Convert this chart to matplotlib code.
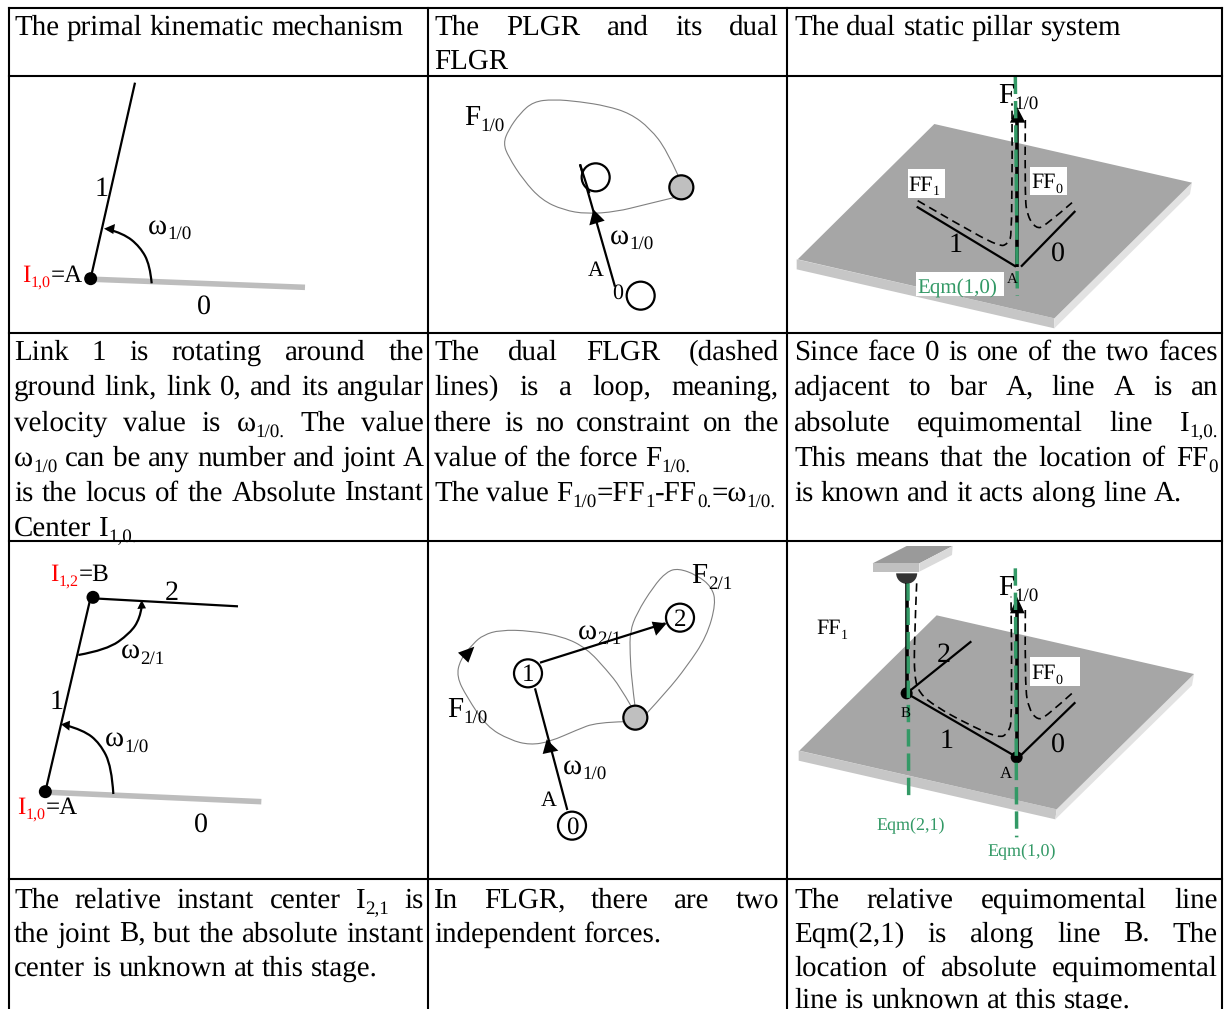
"""Three-column table of linkage diagrams with justified captions."""
import re
import numpy as np
import matplotlib
matplotlib.use("Agg")
import matplotlib.pyplot as plt
from matplotlib.path import Path
from matplotlib.patches import PathPatch, Circle, Polygon, Rectangle, Wedge

plt.rcParams["text.hinting"] = "no_hinting"
plt.rcParams["text.hinting_factor"] = 1

W, H = 1226, 1009
FONT = "Liberation Serif"
BODY = 21.2
OMEGA = 21
GREEN = "#339966"
RED = "#ff0000"
LOOP = "#808080"

COL_X = [9, 428, 787, 1222]
ROW_Y = [8, 76, 333, 541, 879]

# caption text: (left, right, baselines, lines); a line ending in ">" is justified
CAP_COL1 = (14, 424)
CAP_COL2 = (434, 779)
CAP_COL3 = (794, 1218)

HEADER_1 = ["The primal kinematic mechanism"]
HEADER_2 = ["The PLGR and its dual>", "FLGR"]
HEADER_3 = ["The dual static pillar system"]
HEADER_BASE = [35, 69]

ROW2_1 = ["Link 1 is rotating around the>", "ground link, link 0, and its angular>",
          "velocity value is ω_{1/0.} The value>", "ω_{1/0} can be any number and joint A>",
          "is the locus of the Absolute Instant>", "Center I_{1,0.}"]
ROW2_2 = ["The dual FLGR (dashed>", "lines) is a loop, meaning,>",
          "there is no constraint on the>", "value of the force F_{1/0.}",
          "The value F_{1/0}=FF_{1}-FF_{0.}=ω_{1/0.}"]
ROW2_3 = ["Since face 0 is one of the two faces>", "adjacent to bar A, line A is an>",
          "absolute equimomental line I_{1,0.}>", "This means that the location of FF_{0}>",
          "is known and it acts along line A."]
ROW2_BASE = [360, 395, 431, 466, 501, 536]

ROW4_1 = ["The relative instant center I_{2,1} is>", "the joint B, but the absolute instant>",
          "center is unknown at this stage."]
ROW4_2 = ["In FLGR, there are two>", "independent forces."]
ROW4_3 = ["The relative equimomental line>", "Eqm(2,1) is along line B. The>",
          "location of absolute equimomental>", "line is unknown at this stage."]
ROW4_BASE = [908, 942, 976, 1008]

# diagram geometry, in crop units (3 per pixel) from each crop's origin
ORG_A, ORG_B, ORG_C = (0, 70), (430, 70), (786, 70)
ORG_D, ORG_E, ORG_F = (0, 540), (430, 540), (786, 540)

A_LINK = [(272, 625), (405, 38)]
A_GROUND = [(285, 628), (915, 652)]
A_ARC = [(455, 640), (450, 585), (420, 530), (370, 490), (322, 477)]
A_ARROW = [(312, 476), (345, 462), (340, 492)]
A_DOT = (272, 626)

B_LOOP = [(745, 318), (710, 240), (660, 175), (600, 130), (530, 108), (450, 95), (370, 88),
          (310, 95), (270, 130), (235, 180), (220, 220), (235, 260), (280, 330), (335, 390),
          (400, 420), (470, 432), (560, 425), (640, 405), (735, 382)]
B_LINK = [(555, 650), (450, 283)]
B_ARROW = [(490, 418), (478, 466), (524, 452)]
B_OPEN = [(497, 322), (632, 677)]
B_GRAY = (754, 352)

C_TOP = [(445, 162), (1218, 338), (805, 745), (35, 568)]
C_FRONT = [(32, 568), (805, 745), (805, 775), (32, 598)]
C_SIDE = [(805, 745), (1218, 338), (1212, 372), (805, 775)]
C_LINK1 = [(392, 410), (690, 590)]
C_LINK0 = [(868, 423), (705, 590)]
C_BAR = [(692, 590), (692, 150)]
C_HEAD = [(693, 110), (672, 158), (718, 158)]
C_EQM = [(688, 20), (694, 678)]
C_DASH1 = [(395, 392), (520, 465), (640, 530), (665, 522), (680, 490), (678, 100)]
C_DASH2 = [(718, 150), (716, 380), (725, 440), (750, 475), (775, 470), (858, 398)]
C_BOXES = [(366, 297, 476, 383), (732, 290, 842, 374), (390, 607, 653, 677)]

D_LINK1 = [(136, 755), (272, 172)]
D_LINK2 = [(279, 175), (714, 199)]
D_GROUND = [(150, 757), (784, 785)]
D_ARC2 = [(235, 345), (320, 330), (390, 280), (420, 235), (425, 200)]
D_HEAD2 = [(425, 180), (412, 207), (438, 205)]
D_ARC1 = [(340, 762), (335, 680), (300, 610), (250, 570), (195, 555)]
D_HEAD1 = [(183, 553), (210, 542), (208, 572)]
D_DOTS = [(279, 172), (136, 755)]

E_LOOP1 = [(585, 545), (500, 547), (440, 570), (360, 605), (300, 615), (240, 600), (170, 560),
           (110, 470), (80, 410), (90, 360), (130, 310), (160, 285), (210, 270), (300, 272),
           (400, 290), (470, 325), (530, 390), (570, 440), (603, 498)]
E_LOOP2 = [(650, 520), (710, 455), (770, 380), (830, 290), (858, 190), (845, 140), (800, 105),
           (745, 85), (710, 95), (670, 140), (620, 220), (600, 275), (600, 340), (605, 420),
           (615, 498)]
E_LINK1 = [(412, 810), (315, 445)]
E_LINK2 = [(330, 368), (705, 250)]
E_HEAD1 = [(350, 598), (338, 642), (385, 632)]
E_HEAD2 = [(710, 250), (665, 245), (678, 287)]
E_HEAD3 = [(133, 320), (84, 338), (115, 368)]
E_OPEN = [(294, 400), (750, 233), (426, 857)]
E_GRAY = (616, 533)

F_TOP = [(452, 226), (1224, 402), (812, 808), (40, 632)]
F_FRONT = [(38, 632), (812, 808), (808, 838), (38, 662)]
F_SIDE = [(812, 808), (1224, 402), (1218, 436), (808, 838)]
F_SHELF_TOP = [(260, 70), (362, 18), (500, 18), (400, 70)]
F_SHELF_FRONT = [(260, 70), (400, 70), (400, 95), (260, 95)]
F_SHELF_SIDE = [(400, 70), (500, 18), (498, 45), (400, 95)]
F_BAR1 = [(362, 130), (362, 460)]
F_BAR2 = [(692, 650), (692, 215)]
F_HEAD = [(693, 170), (672, 220), (716, 220)]
F_LINK1 = [(362, 460), (690, 650)]
F_LINK0 = [(868, 487), (700, 650)]
F_LINK2 = [(556, 304), (362, 460)]
F_EQM1 = [(366, 130), (368, 775)]
F_EQM2 = [(688, 85), (692, 892)]
F_DASH1 = [(392, 130), (385, 300), (385, 410), (400, 460), (450, 500), (540, 550), (640, 595),
           (665, 580), (680, 540), (675, 170)]
F_DASH2 = [(718, 210), (716, 440), (730, 510), (755, 540), (780, 530), (858, 460)]
F_DOTS = [(362, 460), (692, 652)]
F_BOX = (732, 352, 882, 437)
F_PIVOT = (362, 100)

fig = plt.figure(figsize=(W / 100, H / 100), dpi=100)
ax = fig.add_axes([0, 0, 1, 1])
ax.set_xlim(0, W)
ax.set_ylim(H, 0)
ax.axis("off")
renderer = fig.canvas.get_renderer()


def crop(org, pts):
    return np.array(pts, dtype=float) / 3 + np.array(org)


def width(s, size):
    t = ax.text(0, 0, s, fontsize=size, family=FONT)
    w = t.get_window_extent(renderer).width
    adv, _, _ = renderer.get_text_width_height_descent(s, t.get_fontproperties(), False)
    t.remove()
    return max(w, adv)


def split_runs(s):
    # "F_{1/0}=x" -> [("F", False), ("1/0", True), ("=x", False)]
    runs = []
    for part in re.split(r"(_\{[^}]*\})", s):
        if part.startswith("_{"):
            runs.append((part[2:-1], True))
        elif part:
            runs.append((part, False))
    return runs


def word_width(s, size):
    return sum(width(r, size * 0.65 if sub else size) for r, sub in split_runs(s))


def put(x, y, s, size, color="black", zorder=8):
    for r, sub in split_runs(s):
        sz = size * 0.65 if sub else size
        dy = size * 0.28 if sub else 0
        ax.text(x, y + dy, r, fontsize=sz, family=FONT, color=color, va="baseline",
                ha="left", zorder=zorder)
        x += width(r, sz)
    return x


def caption(col, lines, bases, size=BODY):
    left, right = col
    for s, y in zip(lines, bases):
        justify = s.endswith(">")
        words = s.rstrip(">").split(" ")
        ws = [word_width(w, size) for w in words]
        gap = width("n n", size) - width("nn", size)
        if justify and len(words) > 1:
            gap = (right - left - sum(ws)) / (len(words) - 1)
        x = left
        for w, wd in zip(words, ws):
            put(x, y, w, size)
            x += wd + gap


def line(org, pts, lw=1.5, color="black", dash=None, z=3):
    p = crop(org, pts)
    l, = ax.plot(p[:, 0], p[:, 1], color=color, lw=lw, zorder=z, solid_capstyle="butt",
                 dash_capstyle="butt")
    if dash:
        l.set_dashes(dash)


def curve(org, pts, lw=1.5, color="black", dash=None, z=3):
    p = crop(org, pts)
    verts = [p[0]]
    codes = [Path.MOVETO]
    for i in range(1, len(p) - 1):
        end = p[i + 1] if i == len(p) - 2 else (p[i] + p[i + 1]) / 2
        verts += [p[i], end]
        codes += [Path.CURVE3, Path.CURVE3]
    patch = PathPatch(Path(verts, codes), fill=False, ec=color, lw=lw, zorder=z)
    if dash:
        patch.set_linestyle((0, dash))
    ax.add_patch(patch)


def poly(org, pts, color, z=3):
    ax.add_patch(Polygon(crop(org, pts), closed=True, fc=color, ec="none", zorder=z))


def circle(org, c, r, fc="white", ec="black", lw=1.6, z=5):
    ax.add_patch(Circle(crop(org, [c])[0], r, fc=fc, ec=ec, lw=lw, zorder=z))


def label(org, zx, zy, s, size, color="black", z=8):
    p = crop(org, [(zx, zy)])[0]
    put(p[0], p[1], s, size, color, z)


def white_box(org, box, z=6):
    x0, y0, x1, y1 = box
    p = crop(org, [(x0, y0), (x1, y1)])
    ax.add_patch(Rectangle(p[0], *(p[1] - p[0]), fc="white", ec="none", zorder=z))


# table rules
for x in COL_X:
    ax.plot([x, x], [ROW_Y[0], H], color="black", lw=1.5, zorder=10, clip_on=True)
for y in ROW_Y:
    ax.plot([COL_X[0], COL_X[-1]], [y, y], color="black", lw=1.5, zorder=10)

caption(CAP_COL1, HEADER_1, HEADER_BASE)
caption(CAP_COL2, HEADER_2, HEADER_BASE)
caption(CAP_COL3, HEADER_3, HEADER_BASE)
caption(CAP_COL1, ROW2_1, ROW2_BASE)
caption(CAP_COL2, ROW2_2, ROW2_BASE)
caption(CAP_COL3, ROW2_3, ROW2_BASE)
caption(CAP_COL1, ROW4_1, ROW4_BASE)
caption(CAP_COL2, ROW4_2, ROW4_BASE)
caption(CAP_COL3, ROW4_3, ROW4_BASE)

# top left mechanism
line(ORG_A, A_GROUND, lw=4, color="#bdbdbd")
line(ORG_A, A_LINK, lw=1.6)
curve(ORG_A, A_ARC, lw=1.6)
poly(ORG_A, A_ARROW, "black")
circle(ORG_A, A_DOT, 6.5, fc="black", lw=0)
label(ORG_A, 445, 490, "ω_{1/0}", OMEGA)
label(ORG_A, 283, 378, "1", 20)
label(ORG_A, 592, 730, "0", 20)
x_end = put(22, 282, "I_{1,0}", 18, RED)
put(x_end, 282, "=A", 18)

# top middle graph
curve(ORG_B, B_LOOP, lw=0.8, color=LOOP)
line(ORG_B, B_LINK, lw=1.6)
poly(ORG_B, B_ARROW, "black")
for c in B_OPEN:
    circle(ORG_B, c, 14)
line(ORG_B, [(478, 370), (450, 283)], lw=1.6, z=6)
circle(ORG_B, B_GRAY, 12, fc="#bfbfbf")
label(ORG_B, 103, 165, "F_{1/0}", 21)
label(ORG_B, 540, 520, "ω_{1/0}", OMEGA)
label(ORG_B, 472, 618, "A", 16)
label(ORG_B, 547, 685, "0", 16)

# top right plate
poly(ORG_C, C_FRONT, "#c6c6c6", z=1)
poly(ORG_C, C_SIDE, "#e2e2e2", z=1)
poly(ORG_C, C_TOP, "#a6a6a6", z=2)
for b in C_BOXES:
    white_box(ORG_C, b, z=2.5)
line(ORG_C, C_LINK1, lw=1.6)
line(ORG_C, C_LINK0, lw=1.6)
line(ORG_C, C_BAR, lw=2.6, z=4)
poly(ORG_C, C_HEAD, "black", z=4)
curve(ORG_C, C_DASH1, lw=1.2, dash=(5, 3))
curve(ORG_C, C_DASH2, lw=1.2, dash=(5, 3))
line(ORG_C, C_EQM, lw=2.5, color=GREEN, dash=(5, 2), z=5)
label(ORG_C, 368, 362, "FF_{1}", 16)
label(ORG_C, 735, 355, "FF_{0}", 16)
label(ORG_C, 395, 672, "Eqm(1,0)", 15, GREEN)
label(ORG_C, 663, 640, "A", 11)
label(ORG_C, 638, 100, "F_{1/0}", 21)
label(ORG_C, 487, 545, "1", 20)
label(ORG_C, 795, 573, "0", 20)

# lower left mechanism
line(ORG_D, D_GROUND, lw=4, color="#bdbdbd")
line(ORG_D, D_LINK1, lw=1.6)
line(ORG_D, D_LINK2, lw=1.6)
curve(ORG_D, D_ARC2, lw=1.6)
curve(ORG_D, D_ARC1, lw=1.6)
poly(ORG_D, D_HEAD2, "black")
poly(ORG_D, D_HEAD1, "black")
for c in D_DOTS:
    circle(ORG_D, c, 6.5, fc="black", lw=0)
x_end = put(50, 581, "I_{1,2}", 18, RED)
put(x_end, 581, "=B", 18)
x_end = put(17, 814, "I_{1,0}", 18, RED)
put(x_end, 814, "=A", 18)
label(ORG_D, 495, 180, "2", 20)
label(ORG_D, 362, 353, "ω_{2/1}", OMEGA)
label(ORG_D, 150, 507, "1", 20)
label(ORG_D, 315, 618, "ω_{1/0}", OMEGA)
label(ORG_D, 583, 875, "0", 20)

# lower middle graph
curve(ORG_E, E_LOOP1, lw=0.8, color=LOOP)
curve(ORG_E, E_LOOP2, lw=0.8, color=LOOP)
line(ORG_E, E_LINK1, lw=1.6)
line(ORG_E, E_LINK2, lw=1.6)
poly(ORG_E, E_HEAD1, "black")
poly(ORG_E, E_HEAD2, "black")
poly(ORG_E, E_HEAD3, "black")
for c, s in zip(E_OPEN, ["1", "2", "0"]):
    circle(ORG_E, c, 14)
    p = crop(ORG_E, [c])[0]
    ax.text(p[0], p[1] + 8, s, fontsize=18, family=FONT, ha="center", va="baseline", zorder=8)
circle(ORG_E, E_GRAY, 12, fc="#bfbfbf")
label(ORG_E, 785, 128, "F_{2/1}", 21)
label(ORG_E, 443, 295, "ω_{2/1}", OMEGA)
label(ORG_E, 52, 530, "F_{1/0}", 21)
label(ORG_E, 400, 700, "ω_{1/0}", OMEGA)
label(ORG_E, 333, 797, "A", 16)

# lower right plate
poly(ORG_F, F_FRONT, "#c6c6c6", z=1)
poly(ORG_F, F_SIDE, "#e2e2e2", z=1)
poly(ORG_F, F_TOP, "#a6a6a6", z=2)
white_box(ORG_F, F_BOX, z=2.5)
poly(ORG_F, F_SHELF_TOP, "#9a9a9a", z=3)
poly(ORG_F, F_SHELF_FRONT, "#c0c0c0", z=3)
poly(ORG_F, F_SHELF_SIDE, "#dadada", z=3)
p0 = crop(ORG_F, [F_PIVOT])[0]
ax.add_patch(Wedge(p0, 10.5, 0, 180, fc="#333333", ec="none", zorder=2.8))
line(ORG_F, F_BAR1, lw=2.6, z=4)
line(ORG_F, F_BAR2, lw=2.6, z=4)
poly(ORG_F, F_HEAD, "black", z=4)
line(ORG_F, F_LINK1, lw=1.6)
line(ORG_F, F_LINK0, lw=1.6)
line(ORG_F, F_LINK2, lw=1.6)
curve(ORG_F, F_DASH1, lw=1.2, dash=(5, 3))
curve(ORG_F, F_DASH2, lw=1.2, dash=(5, 3))
for c in F_DOTS:
    circle(ORG_F, c, 6, fc="black", lw=0, z=4)
line(ORG_F, F_EQM1, lw=2.5, color=GREEN, dash=(5, 2), z=5)
line(ORG_F, F_EQM2, lw=2.5, color=GREEN, dash=(5, 2), z=5)
label(ORG_F, 92, 283, "FF_{1}", 16)
label(ORG_F, 735, 418, "FF_{0}", 16)
label(ORG_F, 638, 165, "F_{1/0}", 21)
label(ORG_F, 452, 365, "2", 20)
label(ORG_F, 345, 530, "B", 11)
label(ORG_F, 462, 625, "1", 20)
label(ORG_F, 795, 635, "0", 20)
label(ORG_F, 640, 715, "A", 12)
label(ORG_F, 270, 872, "Eqm(2,1)", 13, GREEN)
label(ORG_F, 605, 950, "Eqm(1,0)", 13, GREEN)

fig.savefig("out.png", dpi=100)
